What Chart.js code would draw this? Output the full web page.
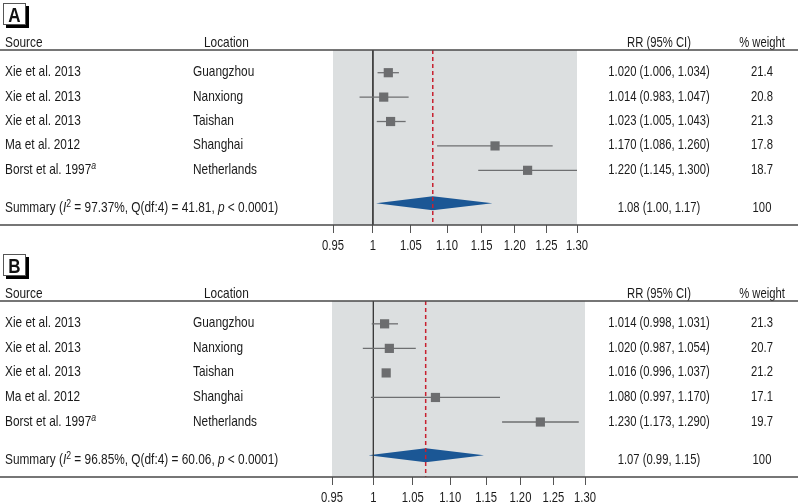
<!DOCTYPE html>
<html>
<head>
<meta charset="utf-8">
<script src="https://cdn.jsdelivr.net/npm/chart.js@4.4.0/dist/chart.umd.min.js"></script>
<style>
  body { margin: 0; background: #fff; }
  canvas { display: block; }
</style>
</head>
<body>
<canvas id="chartA" width="800" height="251"></canvas>
<canvas id="chartB" width="800" height="252"></canvas>
<script>
// study rows (same in both panels)
var sources = ['Xie et al. 2013', 'Xie et al. 2013', 'Xie et al. 2013', 'Ma et al. 2012', 'Borst et al. 1997'];
var sourceNotes = ['', '', '', '', 'a'];
var locations = ['Guangzhou', 'Nanxiong', 'Taishan', 'Shanghai', 'Netherlands'];

// panel A
var rrA = [1.020, 1.014, 1.023, 1.170, 1.220];
var loA = [1.006, 0.983, 1.005, 1.086, 1.145];
var hiA = [1.034, 1.047, 1.043, 1.260, 1.300];
var weightA = [21.4, 20.8, 21.3, 17.8, 18.7];
var whiskerA = [true, true, true, true, true];
var summaryA = [1.080, 1.004, 1.166];   // RR, lower, upper
var statsA = ['97.37%', '4', '41.81', '0.0001'];   // I2, df, Q, p

// panel B
var rrB = [1.014, 1.020, 1.016, 1.080, 1.230];
var loB = [0.998, 0.987, 0.996, 0.997, 1.173];
var hiB = [1.031, 1.054, 1.037, 1.170, 1.290];
var weightB = [21.3, 20.7, 21.2, 17.1, 19.7];
var whiskerB = [true, true, false, true, true];   // no bar drawn for Taishan in the figure
var summaryB = [1.067, 0.994, 1.147];
var statsB = ['96.85%', '4', '60.06', '0.0001'];

var tickValues = [0.95, 1, 1.05, 1.10, 1.15, 1.20, 1.25, 1.30];

var FONT = '"Liberation Sans", Arial, sans-serif';
var SX = 0.79;   // horizontal squeeze, the figure uses a condensed face
var SX_NUM = 0.75;
var TXT = '#1a1a1a';
var Y_MIN = 0.07, Y_MAX = 7.24;

function partFont(kind) {
    if (kind === 'i') return 'italic 15px ' + FONT;
    if (kind === 'sup') return '11px ' + FONT;
    if (kind === 'isup') return 'italic 11px ' + FONT;
    if (kind === 'b') return 'bold 20px ' + FONT;
    return '15px ' + FONT;
}

// draws a list of text pieces; each piece is [text, kind]
function drawParts(ctx, parts, x, y, align, sx) {
    sx = sx || SX;
    var widths = parts.map(function (p) {
        ctx.font = partFont(p[1]);
        return ctx.measureText(p[0]).width * sx;
    });
    var total = widths.reduce(function (a, b) { return a + b; }, 0);
    var cx = x;
    if (align === 'center') cx = x - total / 2;
    if (align === 'right') cx = x - total;
    ctx.textAlign = 'left';
    ctx.textBaseline = 'alphabetic';
    parts.forEach(function (p, k) {
        ctx.font = partFont(p[1]);
        var dy = (p[1] === 'sup' || p[1] === 'isup') ? -5 : 0;
        ctx.save();
        ctx.translate(cx, y + dy);
        ctx.scale(sx, 1);
        ctx.fillText(p[0], 0, 0);
        ctx.restore();
        cx += widths[k];
    });
}

function makeForest(canvasId, letter, rr, lo, hi, weight, whisker, summary, stats, padLeft, padRight) {
    var n = rr.length;
    var sumRow = n + 1.35;

    var datasets = [];
    datasets.push({
        type: 'scatter', data: rr.map(function (v, i) { return { x: v, y: i + 1 }; }),
        pointStyle: 'rect', pointRadius: 6.5, backgroundColor: '#6c6d6f', borderWidth: 0, order: 0
    });
    rr.forEach(function (v, i) {
        if (!whisker[i]) return;
        datasets.push({
            type: 'line', data: [{ x: lo[i], y: i + 1 }, { x: hi[i], y: i + 1 }],
            borderColor: '#6e6f71', borderWidth: 1.3, pointRadius: 0, order: 2
        });
    });
    datasets.push({
        type: 'line', data: [{ x: summary[0], y: Y_MIN }, { x: summary[0], y: Y_MAX }],
        borderColor: '#c8202f', borderWidth: 1.5, borderDash: [4, 3], pointRadius: 0, order: 1
    });
    datasets.push({
        type: 'line', data: [{ x: 1, y: Y_MIN }, { x: 1, y: Y_MAX }],
        borderColor: '#3a3a3a', borderWidth: 1, pointRadius: 0, order: 3
    });

    var forestPlugin = {
        id: 'forest',
        beforeDraw: function (chart) {
            var a = chart.chartArea, ctx = chart.ctx;
            ctx.save();
            ctx.fillStyle = '#dcdfe0';
            ctx.fillRect(a.left, a.top, a.right - a.left, a.bottom - a.top);
            ctx.restore();
        },
        beforeDatasetsDraw: function (chart) {
            var ctx = chart.ctx, xs = chart.scales.x, ys = chart.scales.y;
            var yc = ys.getPixelForValue(sumRow);
            ctx.save();
            ctx.fillStyle = '#1b5795';
            ctx.beginPath();
            ctx.moveTo(xs.getPixelForValue(summary[1]), yc);
            ctx.lineTo(xs.getPixelForValue(summary[0]), yc - 7);
            ctx.lineTo(xs.getPixelForValue(summary[2]), yc);
            ctx.lineTo(xs.getPixelForValue(summary[0]), yc + 7);
            ctx.closePath();
            ctx.fill();
            ctx.restore();
        },
        afterDraw: function (chart) {
            var ctx = chart.ctx, a = chart.chartArea, ys = chart.scales.y, xs = chart.scales.x;
            ctx.save();

            // panel letter box
            var bx = 3, by = a.top - 47;
            ctx.fillStyle = '#000';
            ctx.fillRect(bx + 3, by + 3, 23, 22);
            ctx.fillStyle = '#fff';
            ctx.fillRect(bx, by, 23, 22);
            ctx.strokeStyle = '#555';
            ctx.lineWidth = 1;
            ctx.strokeRect(bx + 0.5, by + 0.5, 22, 21);
            ctx.fillStyle = '#111';
            drawParts(ctx, [[letter, 'b']], bx + 11.5, by + 19, 'center', 0.85);

            // header
            ctx.fillStyle = TXT;
            var hy = a.top - 3;
            drawParts(ctx, [['Source', '']], 5, hy, 'left');
            drawParts(ctx, [['Location', '']], 204, hy, 'left');
            drawParts(ctx, [['RR (95% CI)', '']], 659, hy, 'center', SX_NUM);
            drawParts(ctx, [['% weight', '']], 762, hy, 'center', SX_NUM);

            // rules
            ctx.strokeStyle = '#4a4a4a';
            ctx.lineWidth = 1.6;
            ctx.beginPath();
            ctx.moveTo(0, a.top);
            ctx.lineTo(798, a.top);
            ctx.moveTo(0, a.bottom);
            ctx.lineTo(798, a.bottom);
            ctx.stroke();

            // tick labels of the log axis
            ctx.fillStyle = TXT;
            xs.ticks.forEach(function (t) {
                drawParts(ctx, [[t.label, '']], xs.getPixelForValue(t.value), a.bottom + 25, 'center', SX_NUM);
            });

            // study rows
            for (var i = 0; i < n; i++) {
                var y = ys.getPixelForValue(i + 1) + 3.5;
                var src = [[sources[i], '']];
                if (sourceNotes[i]) src.push([sourceNotes[i], 'isup']);
                drawParts(ctx, src, 5, y, 'left');
                drawParts(ctx, [[locations[i], '']], 193, y, 'left');
                drawParts(ctx, [[rr[i].toFixed(3) + ' (' + lo[i].toFixed(3) + ', ' + hi[i].toFixed(3) + ')', '']], 659, y, 'center', SX_NUM);
                drawParts(ctx, [[weight[i].toFixed(1), '']], 762, y, 'center', SX_NUM);
            }

            // summary row
            var sy = ys.getPixelForValue(sumRow) + 8.5;
            drawParts(ctx, [
                ['Summary (', ''], ['I', 'i'], ['2', 'sup'],
                [' = ' + stats[0] + ', Q(df:' + stats[1] + ') = ' + stats[2] + ', ', ''],
                ['p', 'i'], [' < ' + stats[3] + ')', '']
            ], 5, sy, 'left');
            drawParts(ctx, [[summary[0].toFixed(2) + ' (' + summary[1].toFixed(2) + ', ' + summary[2].toFixed(2) + ')', '']], 659, sy, 'center', SX_NUM);
            drawParts(ctx, [['100', '']], 762, sy, 'center', SX_NUM);
            ctx.restore();
        }
    };

    return new Chart(document.getElementById(canvasId), {
        data: { datasets: datasets },
        options: {
            responsive: false,
            animation: false,
            layout: { padding: { top: 50, left: padLeft, right: padRight, bottom: 0 } },
            plugins: { legend: { display: false }, tooltip: { enabled: false } },
            scales: {
                x: {
                    type: 'logarithmic',
                    min: 0.95,
                    max: 1.3,
                    afterBuildTicks: function (scale) {
                        scale.ticks = tickValues.map(function (v) { return { value: v }; });
                    },
                    afterFit: function (scale) { scale.height = 26; },
                    border: { display: false },
                    grid: { drawOnChartArea: false, drawTicks: true, tickLength: 8, color: '#555', lineWidth: 1 },
                    ticks: {
                        display: false, autoSkip: false, maxRotation: 0,
                        callback: function (v) { return v === 1 ? '1' : Number(v).toFixed(2); }
                    }
                },
                y: { type: 'linear', reverse: true, min: Y_MIN, max: Y_MAX, display: false }
            }
        },
        plugins: [forestPlugin]
    });
}

makeForest('chartA', 'A', rrA, loA, hiA, weightA, whiskerA, summaryA, statsA, 333, 223);
makeForest('chartB', 'B', rrB, loB, hiB, weightB, whiskerB, summaryB, statsB, 332, 215);
</script>
</body>
</html>
